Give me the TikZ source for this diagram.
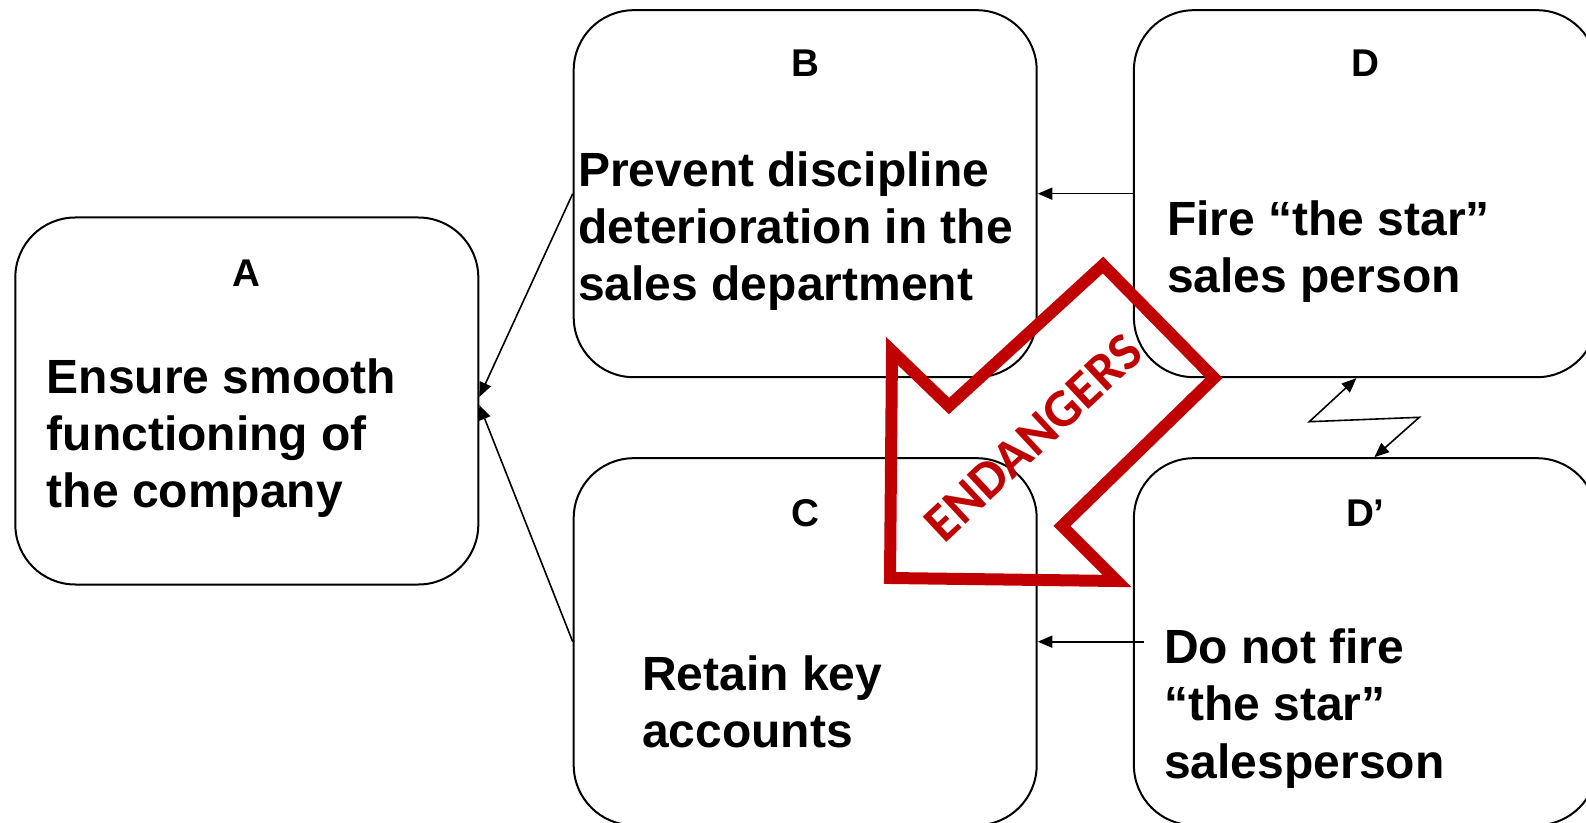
\documentclass[tikz,border=0pt]{standalone}
\usepackage{fontspec}
\setmainfont{Liberation Sans}
\newfontfamily\carl{Carlito}
\usetikzlibrary{arrows.meta,calc}
\definecolor{dred}{HTML}{C00000}
\begin{document}
\begin{tikzpicture}[x=0.75pt,y=-0.75pt,
  box/.style={draw,line width=1.5pt,rounded corners=45pt,minimum width=347.25pt,minimum height=275.25pt,inner sep=0},
  ttl/.style={font=\bfseries\fontsize{29}{34}\selectfont,anchor=base,inner sep=0},
  txt/.style={font=\bfseries\fontsize{36}{43}\selectfont,anchor=base west,inner sep=0},
  con/.style={line width=1.2pt,-{Triangle[length=11pt,width=9pt]}},
  bicon/.style={line width=1.2pt,{Triangle[length=11pt,width=9pt]}-{Triangle[length=11pt,width=9pt]}},
  bigarrow/.style={draw=dred,line width=9pt,miter limit=10},
  endtext/.style={text=dred,font=\carl\bfseries\fontsize{40}{48}\selectfont,inner sep=0}]
\useasboundingbox (0,0) rectangle (1586,823);
% boxes
\node[box] (A) at (246.8,401) {};
\node[box] (B) at (805.2,193.7) {};
\node[box] (C) at (805.2,641.7) {};
\node[box] (D) at (1365.4,193.7) {};
\node[box] (Dp) at (1365.4,641.7) {};
% titles
\node[ttl] (At) at (246.8,287) {A};
\node[ttl] (Bt) at (805.2,76.7) {B};
\node[ttl] (Dt) at (1365.4,76.7) {D};
\node[ttl] (Ct) at (805.2,527) {C};
\node[ttl] (Dpt) at (1365.4,527) {D’};
% texts
\node[txt] (A1) at (46.5,393.5) {Ensure smooth};
\node[txt] (A2) at (46.5,450.5) {functioning of};
\node[txt] (A3) at (46.5,507.5) {the company};
\node[txt] (B1) at (578,186.7) {Prevent discipline};
\node[txt] (B2) at (578,243.5) {deterioration in the};
\node[txt] (B3) at (578,300.3) {sales department};
\node[txt] (D1) at (1167,235.5) {Fire “the star”};
\node[txt] (D2) at (1167,293) {sales person};
\node[txt] (C1) at (642,690.6) {Retain key};
\node[txt] (C2) at (642,747.3) {accounts};
\node[txt] (Dp1) at (1164,663) {Do not fire};
\node[txt] (Dp2) at (1164,720.7) {“the star”};
\node[txt] (Dp3) at (1164,778.4) {salesperson};
% connectors
\draw[con] (B.west) -- ($(A.east)+(0,-4)$);
\draw[con] (C.west) -- ($(A.east)+(0,4)$);
\draw[con] (D.west) -- (B.east);
\draw[con] ($(Dp.west)+(11,0)$) -- (C.east);
\coordinate (z1) at (1309.3,421.7);
\coordinate (z2) at (1419.3,417.3);
\draw[bicon] ($(D.south)+(-9,0)$) -- (z1) -- (z2) -- ($(Dp.north)+(9,0)$);
% big red arrow
\draw[bigarrow] (1103,265) -- (1214,378) -- (1062,526) -- (1117,581) -- (890,578) -- (892,351) -- (949,406) -- cycle;
\node[endtext,rotate=43] (E) at (1033,438) {ENDANGERS};
\end{tikzpicture}
\end{document}
